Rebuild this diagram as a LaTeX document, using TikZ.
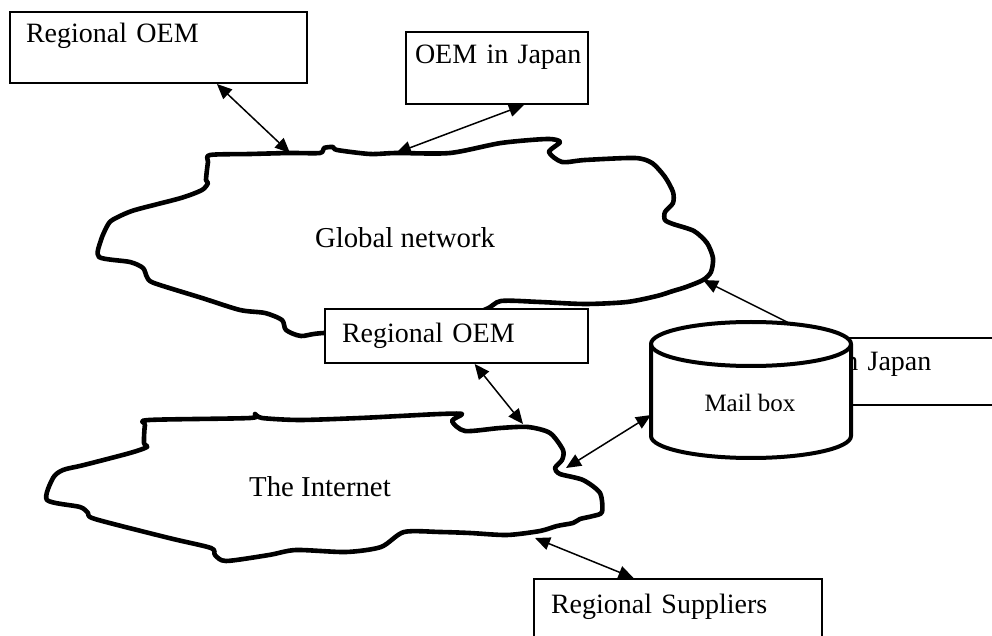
\documentclass[tikz,border=0pt]{standalone}
\usepackage{fontspec}
\setmainfont{Liberation Serif}
\usetikzlibrary{arrows.meta}

\begin{document}
\begin{tikzpicture}[
  x=0.5pt, y=-0.5pt,
  textbox/.style={
    rectangle,
    draw=black,
    line width=1pt,
    fill=white,
    anchor=north west,
    align=left,
    inner ysep=0pt,
    font=\fontsize{14}{16}\selectfont
  },
  cloudline/.style={line width=2.3pt, line join=round, line cap=round, fill=white},
  drum/.style={line width=2pt, line join=round},
  label/.style={anchor=base, font=\fontsize{14.4}{16}\selectfont},
  link/.style={{Triangle[length=7.5pt, width=6.5pt]}-{Triangle[length=7.5pt, width=6.5pt]}, line width=0.75pt},
  feed/.style={-{Triangle[length=7.5pt, width=6.5pt]}, line width=0.75pt}
]
\useasboundingbox (0,0) rectangle (992,636);

\draw[cloudline] plot[smooth cycle, tension=0.45] coordinates {
  (210,155) (250,154) (290,153) (320,153) (324,148) (333,147) (337,150)
  (370,154) (396,153) (450,153) (501,143) (547,139) (560,142) (549,152)
  (562,162) (585,160) (635,158) (652,163) (665,177) (673,192) (673,203)
  (665,212) (665,220) (673,224) (694,231) (707,243) (713,258) (711,272)
  (703,280) (686,287) (673,291) (657,296) (627,302) (585,304) (540,302)
  (501,301) (484,310) (420,330) (324,333) (301,336) (286,330) (282,320)
  (265,313) (240,310) (202,298) (154,283) (147,277) (143,268) (130,262)
  (99,257) (101,240) (109,223) (118,217) (135,210) (181,198) (202,190)
  (208,183) (206,180) (208,162)};
\draw[cloudline] plot[smooth cycle, tension=0.45] coordinates {
  (149,420) (250,418) (255,414) (262,418) (300,420) (360,418) (400,416)
  (440,414) (462,414) (452,421) (465,431) (500,428) (528,427) (550,433)
  (563,450) (562,460) (555,468) (560,474) (583,480) (600,493) (602,512)
  (593,516) (580,519) (573,523) (557,526) (540,531) (507,535) (470,533)
  (440,532) (404,532) (381,547) (346,552) (296,550) (269,555) (226,561)
  (215,555) (211,548) (169,538) (95,519) (88,513) (80,507) (47,500)
  (53,478) (63,470) (84,465) (130,453) (147,447) (144,443) (145,425)};

\coordinate (gA) at (290,153);
\coordinate (gJ) at (396,153);
\coordinate (gM) at (703,280);
\coordinate (iC) at (523,424);
\coordinate (iM) at (566,468);
\coordinate (iS) at (535,538);

\node[label] (global) at (405,248) {Global network};
\node[label] (internet) at (320,497) {The Internet};

\node[textbox, inner xsep=9.5pt, text width=113.5pt, text height=16.5pt, text depth=17pt]
  (oemjapanB) at (745,337) {\mbox{OEM in Japan}};

\draw[drum, fill=white] (651,344) -- (651,436)
  arc[start angle=180, end angle=360, x radius=50pt, y radius=11pt] -- (851,344)
  arc[start angle=0, end angle=180, x radius=50pt, y radius=11pt] -- cycle;
\draw[drum] (651,344) arc[start angle=180, end angle=360, x radius=50pt, y radius=11pt];
\node[anchor=base, font=\fontsize{12.5}{14}\selectfont] (mailbox) at (750,412) {Mail box};
\coordinate (mboxtop) at (790,323.5);
\coordinate (mboxleft) at (651,415);

\node[textbox, inner xsep=8pt, text width=132.5pt, text height=15.5pt, text depth=20pt]
  (regoemA) at (9,11) {\mbox{Regional OEM}};
\node[textbox, inner xsep=4.5pt, text width=82pt, text height=16pt, text depth=20pt]
  (oemjapanA) at (405,31) {\mbox{OEM in Japan}};
\node[textbox, inner xsep=8.5pt, text width=114.5pt, text height=17pt, text depth=10pt]
  (regoemB) at (324,308) {\mbox{Regional OEM}};
\node[textbox, inner xsep=8.5pt, text width=127pt, text height=17pt, text depth=18pt]
  (suppliers) at (533,578) {\mbox{Regional Suppliers}};

\draw[link] (regoemA.-32) -- (gA);
\draw[link] (oemjapanA.-54) -- (gJ);
\draw[feed] (mboxtop) -- (gM);
\draw[link] (regoemB.-57) -- (iC);
\draw[link] (mboxleft) -- (iM);
\draw[link] (suppliers.141.5) -- (iS);

\end{tikzpicture}
\end{document}
